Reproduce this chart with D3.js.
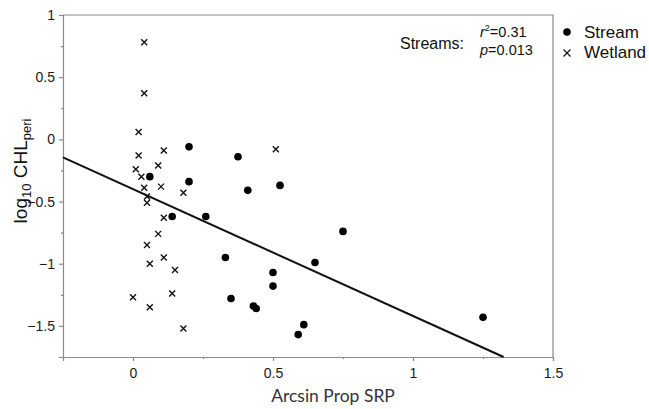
<!DOCTYPE html>
<html>
<head>
<meta charset="utf-8">
<script src="https://cdn.jsdelivr.net/npm/d3@7"></script>
<style>
  body { margin: 0; background: #fff; }
  svg { display: block; }
  .axis path, .axis line { stroke: #8a8a8a; }
  .axis text { font-family: "Liberation Sans", Arial, sans-serif; font-size: 14px; fill: #1a1a1a; }
</style>
</head>
<body>
<svg id="chart" width="649" height="409" viewBox="0 0 649 409"></svg>
<script>
// values
const streamX = [0.20, 0.375, 0.06, 0.20, 0.41, 0.525, 0.14, 0.26, 0.33, 0.65, 0.75, 0.50, 0.50, 0.35, 0.43, 0.44, 0.61, 0.59, 1.25]
const streamY = [-0.06, -0.14, -0.30, -0.34, -0.41, -0.37, -0.62, -0.62, -0.95, -0.99, -0.74, -1.07, -1.18, -1.28, -1.34, -1.36, -1.49, -1.57, -1.43]

const wetlandX = [0.04, 0.04, 0.02, 0.02, 0.11, 0.09, 0.01, 0.03, 0.04, 0.10, 0.18, 0.05, 0.05, 0.11, 0.09, 0.05, 0.11, 0.06, 0.15, 0.14, 0.00, 0.06, 0.18, 0.51]
const wetlandY = [0.78, 0.37, 0.06, -0.13, -0.09, -0.21, -0.24, -0.30, -0.39, -0.38, -0.43, -0.46, -0.51, -0.63, -0.76, -0.85, -0.95, -1.00, -1.05, -1.24, -1.27, -1.35, -1.52, -0.08]

// stream regression line
const fitSlope = -1.02
const fitIntercept = -0.40

const xTicks = [0, 0.5, 1, 1.5]
const xMinor = [-0.25, 0.25, 0.75, 1.25]
const yTicks = [1, 0.5, 0, -0.5, -1, -1.5]
const yMinor = [0.75, 0.25, -0.25, -0.75, -1.25, -1.75]

const legendLabels = ["Stream", "Wetland"]

const svg = d3.select("#chart")
const plot = {left: 63, right: 553, top: 15, bottom: 357}

const x = d3.scaleLinear().domain([-0.25, 1.5]).range([plot.left, plot.right])
const y = d3.scaleLinear().domain([-1.75, 1]).range([plot.bottom, plot.top])

//frame (top + right)
svg.append("path")
    .attr("d", `M${plot.left},${plot.top}H${plot.right}V${plot.bottom}`)
    .attr("fill", "none")
    .attr("stroke", "#8a8a8a")
    .attr("stroke-width", 1.2)

// axes, major + minor ticks
svg.append("g").attr("class", "axis")
    .attr("transform", `translate(0,${plot.bottom})`)
    .call(d3.axisBottom(x).tickValues(xTicks).tickSize(4).tickPadding(7)
        .tickFormat(d => d3.format("")(d)))
svg.append("g").attr("class", "axis")
    .attr("transform", `translate(0,${plot.bottom})`)
    .call(d3.axisBottom(x).tickValues(xMinor).tickSize(2).tickFormat(""))
    .select(".domain").remove()

svg.append("g").attr("class", "axis")
    .attr("transform", `translate(${plot.left},0)`)
    .call(d3.axisLeft(y).tickValues(yTicks).tickSize(4).tickPadding(4)
        .tickFormat(d => d3.format("")(d)))
svg.append("g").attr("class", "axis")
    .attr("transform", `translate(${plot.left},0)`)
    .call(d3.axisLeft(y).tickValues(yMinor).tickSize(2).tickFormat(""))
    .select(".domain").remove()

svg.selectAll(".axis path, .axis line").attr("stroke-width", 1.2)

// regression line, clipped to the bottom of the axis
const xEnd = (y.domain()[0] - fitIntercept) / fitSlope
const xStart = x.domain()[0]
svg.append("line")
    .attr("x1", x(xStart))
    .attr("y1", y(fitIntercept + fitSlope * xStart))
    .attr("x2", x(xEnd))
    .attr("y2", y(fitIntercept + fitSlope * xEnd))
    .attr("stroke", "#111")
    .attr("stroke-width", 2)

// points
const streams = streamX.map((d, i) => ({x: d, y: streamY[i]}))
const wetlands = wetlandX.map((d, i) => ({x: d, y: wetlandY[i]}))

const cross = (cx, cy, s) => `M${cx - s},${cy - s}L${cx + s},${cy + s}M${cx - s},${cy + s}L${cx + s},${cy - s}`

svg.append("g")
    .selectAll("path")
    .data(wetlands)
    .enter()
    .append("path")
    .attr("d", d => cross(x(d.x), y(d.y), 3))
    .attr("stroke", "#111")
    .attr("stroke-width", 1.4)

svg.append("g")
    .selectAll("circle")
    .data(streams)
    .enter()
    .append("circle")
    .attr("cx", d => x(d.x))
    .attr("cy", d => y(d.y))
    .attr("r", 3.8)
    .attr("fill", "#000")

// stats note
const note = svg.append("g").attr("font-family", "Liberation Sans, Arial, sans-serif").attr("fill", "#111")
note.append("text").attr("x", 400).attr("y", 49).attr("font-size", 16).text("Streams:")
const r2 = note.append("text").attr("x", 480).attr("y", 37).attr("font-size", 14.5)
r2.append("tspan").attr("font-style", "italic").text("r")
r2.append("tspan").attr("font-size", 9).attr("dy", -6).text("2")
r2.append("tspan").attr("dy", 6).text("=0.31")
const pv = note.append("text").attr("x", 480).attr("y", 55).attr("font-size", 14.5)
pv.append("tspan").attr("font-style", "italic").text("p")
pv.append("tspan").text("=0.013")

// legend
const legend = svg.append("g").attr("font-family", "Liberation Sans, Arial, sans-serif")
legend.append("circle").attr("cx", 567).attr("cy", 32).attr("r", 3.8).attr("fill", "#000")
legend.append("path").attr("d", cross(567, 53, 3.5)).attr("stroke", "#111").attr("stroke-width", 1.2)
legend.selectAll("text")
    .data(legendLabels)
    .enter()
    .append("text")
    .attr("x", 584)
    .attr("y", (d, i) => 38 + i * 19.5)
    .attr("font-size", 17)
    .attr("fill", "#111")
    .text(d => d)

// axis titles
svg.append("text")
    .attr("x", 333)
    .attr("y", 402)
    .attr("text-anchor", "middle")
    .attr("font-family", "Lato, sans-serif")
    .attr("font-size", 17.5)
    .attr("fill", "#333")
    .text("Arcsin Prop SRP")

const yTitle = svg.append("text")
    .attr("transform", "translate(27,171) rotate(-90)")
    .attr("text-anchor", "middle")
    .attr("font-family", "Liberation Sans, Arial, sans-serif")
    .attr("font-size", 19)
    .attr("fill", "#111")
yTitle.append("tspan").text("log")
yTitle.append("tspan").attr("font-size", 13).attr("dy", 4).text("10")
yTitle.append("tspan").attr("dy", -4).text(" CHL")
yTitle.append("tspan").attr("font-size", 13).attr("dy", 4).text("peri")
</script>
</body>
</html>
